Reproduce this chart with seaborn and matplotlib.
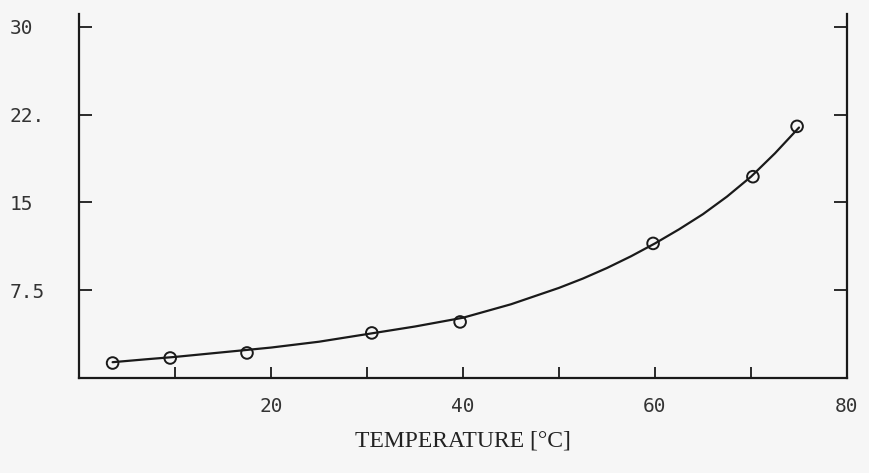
import matplotlib
matplotlib.use("Agg")
import matplotlib.pyplot as plt
import seaborn as sns
import pandas as pd

# measured points
temp_points = [3.5, 9.5, 17.5, 30.5, 39.7, 59.8, 70.2, 74.8]
value_points = [1.28, 1.71, 2.14, 3.85, 4.79, 11.5, 17.2, 21.5]

# fitted curve
temp_curve = [3.5, 7, 10, 15, 20, 25, 30, 35, 40, 45, 50, 52.5, 55, 57.5, 60,
              62.5, 65, 67.5, 70, 72.5, 75]
value_curve = [1.35, 1.6, 1.8, 2.2, 2.6, 3.1, 3.75, 4.4, 5.15, 6.3, 7.7, 8.5, 9.4, 10.4, 11.5,
               12.7, 14.0, 15.5, 17.2, 19.2, 21.4]

x_ticks = [10, 20, 30, 40, 50, 60, 70, 80]
x_tick_labels = ["", "20", "", "40", "", "60", "", "80"]
y_ticks = [7.5, 15, 22.5, 30]
y_tick_labels = ["7.5", "15", "22.", "30"]
x_label = "TEMPERATURE [°C]"

sns.set_style("white")
bg = "#f6f6f6"
fig = plt.figure(figsize=(8.7, 4.73), dpi=100, facecolor=bg)
ax = fig.add_axes([79/870, 1-378/473, (847-79)/870, (378-14)/473])
ax.set_facecolor(bg)

curve = pd.DataFrame({"t": temp_curve, "v": value_curve})
pts = pd.DataFrame({"t": temp_points, "v": value_points})
sns.lineplot(data=curve, x="t", y="v", ax=ax, color="#1a1a1a", linewidth=1.6)
sns.scatterplot(data=pts, x="t", y="v", ax=ax, s=70, facecolor="none",
                edgecolor="#1a1a1a", linewidth=1.4, zorder=3)

ax.set_xlim(0, 80)
ax.set_ylim(0, 31.1)
ax.set_xticks(x_ticks)
ax.set_xticklabels(x_tick_labels, fontfamily="DejaVu Sans Mono", fontsize=14, color="#333333")
ax.set_yticks(y_ticks)
ax.set_yticklabels(y_tick_labels, fontfamily="DejaVu Sans Mono", fontsize=14, color="#333333")
for lab in ax.get_yticklabels():
    lab.set_ha("left")

ax.tick_params(axis="x", direction="in", length=8, width=1.3, pad=14, color="#1a1a1a",
               bottom=True, top=False)
ax.tick_params(axis="y", direction="in", length=9.5, width=1.3, pad=50, color="#1a1a1a",
               left=True, right=True, labelright=False)

for side in ["left", "bottom", "right"]:
    ax.spines[side].set_visible(True)
    ax.spines[side].set_color("#1a1a1a")
    ax.spines[side].set_linewidth(1.6)
ax.spines["top"].set_visible(False)

ax.set_xlabel(x_label, fontfamily="Liberation Serif", fontsize=17, color="#222222", labelpad=10)
ax.set_ylabel("")

fig.savefig("out.png", dpi=100, facecolor=bg)
